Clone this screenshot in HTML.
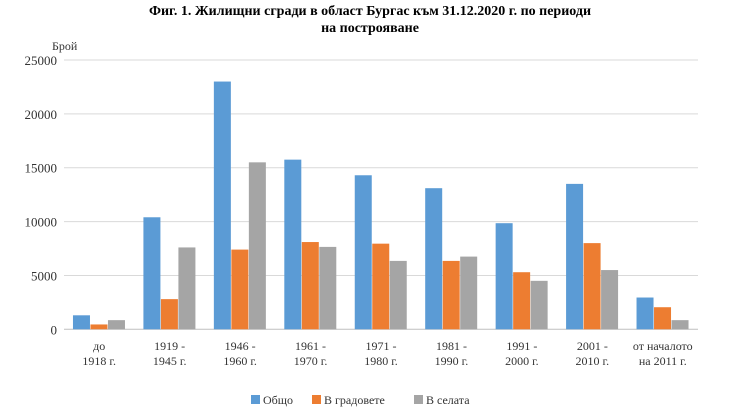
<!DOCTYPE html>
<html><head><meta charset="utf-8"><style>
body{margin:0;background:#fff;}
svg{display:block;font-family:"Liberation Serif",serif;}
</style></head><body>
<svg id="chart" width="736" height="418">
<text x="370" y="15" text-anchor="middle" font-weight="bold" font-size="14">Фиг. 1. Жилищни сгради в област Бургас към 31.12.2020 г. по периоди</text>
<text x="370" y="32" text-anchor="middle" font-weight="bold" font-size="14">на построяване</text>
<text x="52" y="50" font-size="12" fill="#333">Брой</text>
<g id="grid"></g><g id="bars"></g><g id="xl"></g>
<g>
<rect x="251" y="395" width="9" height="9" fill="#5b9bd5"/>
<text x="263" y="404" font-size="12" fill="#333">Общо</text>
<rect x="312" y="395" width="9" height="9" fill="#ed7d31"/>
<text x="324" y="404" font-size="12" fill="#333">В градовете</text>
<rect x="414" y="395" width="9" height="9" fill="#a5a5a5"/>
<text x="426" y="404" font-size="12" fill="#333">В селата</text>
</g>
</svg>
<script>
const categories=[["до","1918 г."],["1919 -","1945 г."],["1946 -","1960 г."],["1961 -","1970 г."],["1971 -","1980 г."],["1981 -","1990 г."],["1991 -","2000 г."],["2001 -","2010 г."],["от началото","на 2011 г."]];
const total=[1300,10400,23000,15750,14300,13100,9850,13500,2950];
const towns=[450,2800,7400,8100,7950,6350,5300,8000,2050];
const villages=[850,7600,15500,7650,6350,6750,4500,5500,850];
const yTicks=[0,5000,10000,15000,20000,25000];
const NS="http://www.w3.org/2000/svg";
const x0=64,x1=698,yb=329.3,yt=60,ymax=25000;
const y=v=>yb-(v/ymax)*(yb-yt);
const gw=(x1-x0)/categories.length;
const bw=17.5;
function mk(t,a,p){const e=document.createElementNS(NS,t);for(const k in a)e.setAttribute(k,a[k]);document.getElementById(p).appendChild(e);return e;}
yTicks.forEach((v,i)=>{
 const l=mk('line',{x1:x0,x2:x1,y1:y(v),y2:y(v),stroke:v===0?'#bfbfbf':'#d9d9d9','stroke-width':1},'grid');
 
 
 const t=mk('text',{x:57,y:y(v)+5,'text-anchor':'end','font-size':13,fill:'#333'},'grid');
 t.textContent=v;
 
 
});
const series=[[total,'#5b9bd5','total'],[towns,'#ed7d31','towns'],[villages,'#a5a5a5','villages']];
categories.forEach((c,i)=>{
 const cx=x0+gw*(i+0.5);
 series.forEach((s,j)=>{
  const v=s[0][i];
  const r=mk('rect',{x:cx-1.5*bw+j*bw,y:y(v),width:bw-0.5,height:yb-y(v),fill:s[1]},'bars');
  
  
 });
 c.forEach((ln,k)=>{
  const t=mk('text',{x:cx,y:350+k*15,'text-anchor':'middle','font-size':12,fill:'#333'},'xl');
  t.textContent=ln;
  
  
 });
});
</script>
</body></html>
